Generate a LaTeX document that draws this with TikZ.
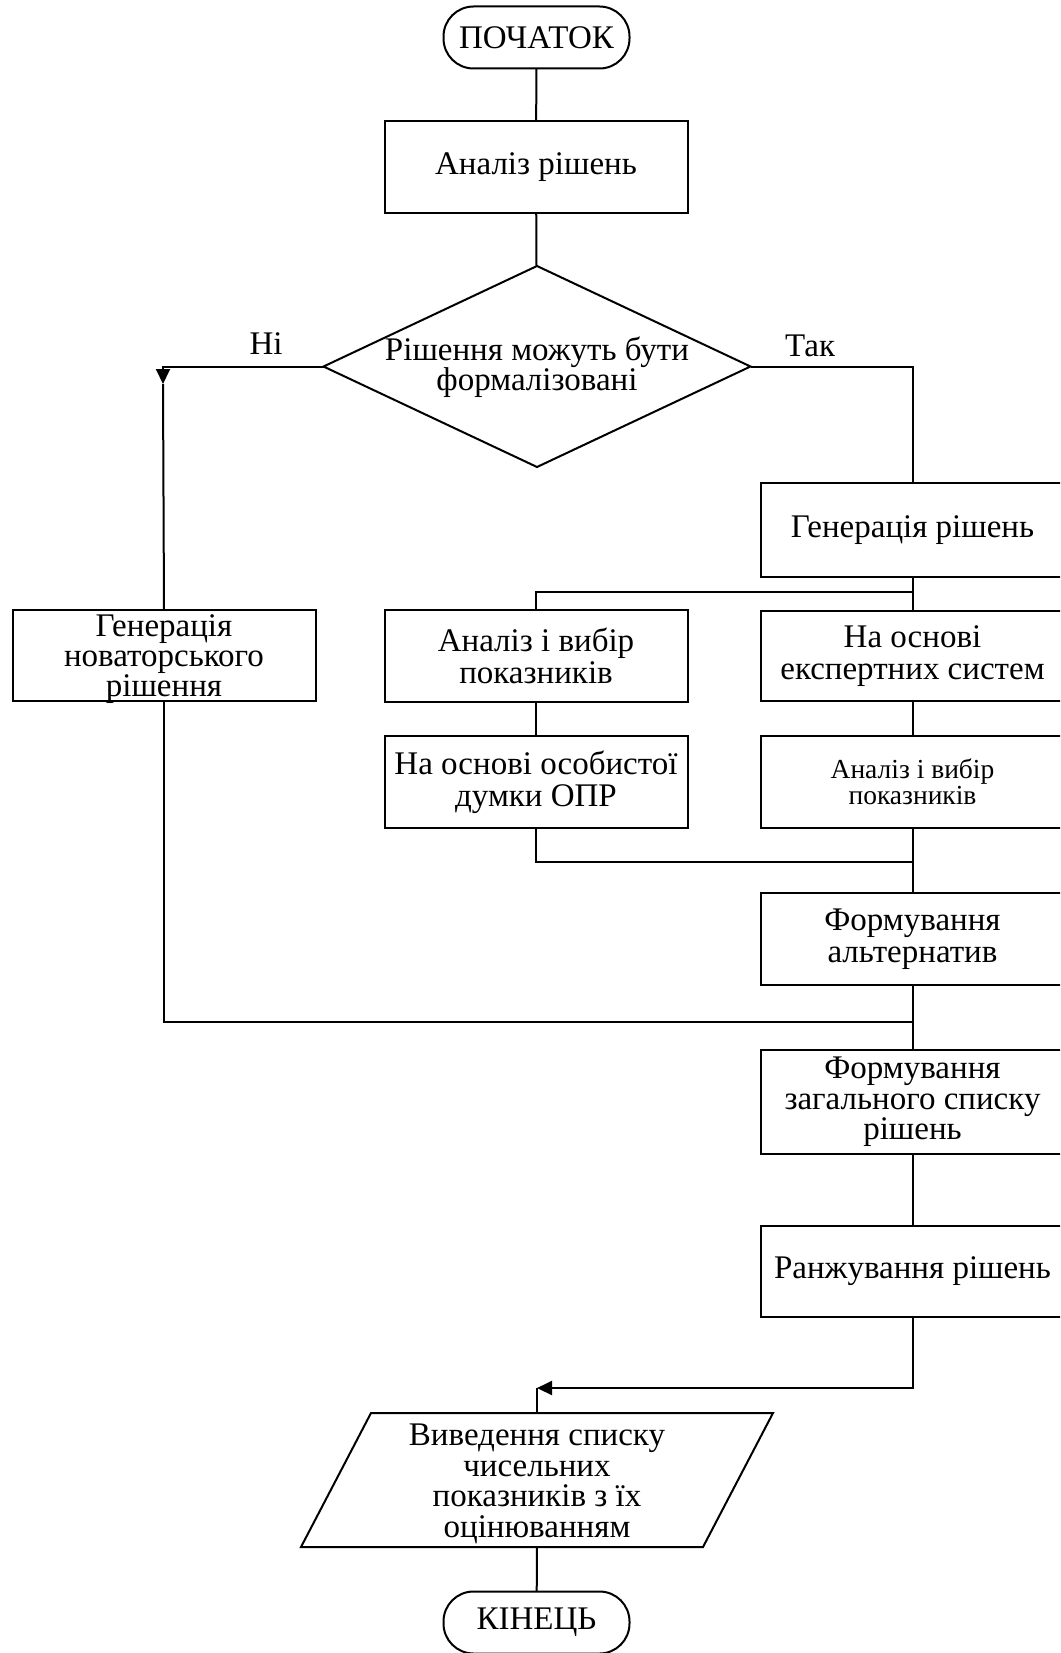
\documentclass[tikz,border=0pt]{standalone}
\usepackage{fontspec}
\setmainfont{Liberation Serif}
\usetikzlibrary{arrows.meta,shapes.geometric,calc}

\begin{document}
\begin{tikzpicture}[x=1pt,y=-1pt,
  every node/.style={inner sep=0pt,outer sep=0pt},
  line/.style={line width=2pt,line join=miter},
  txt/.style={font=\fontsize{33}{32}\selectfont,align=center},
  tighttxt/.style={font=\fontsize{33}{30.5}\selectfont,align=center},
  smalltxt/.style={font=\fontsize{27.5}{26}\selectfont,align=center},
  procbox/.style={line,draw,rectangle,minimum width=303pt,minimum height=92pt,txt},
  termbox/.style={line,draw,rectangle,rounded corners=30pt,minimum width=186pt,minimum height=62pt,txt},
  decbox/.style={line,draw,diamond,minimum width=427pt,minimum height=201pt},
  arrowtip/.style={-{Triangle[length=15pt,width=14pt]}}
]
\useasboundingbox (0,0) rectangle (1060,1653);
\clip (0,0) rectangle (1060,1653);

% flow blocks
\node[termbox] (start) at (536.5,37.5) {ПОЧАТОК};
\node[procbox] (anal) at (536,167) {Аналіз рішень};
\node[decbox] (dec) at (537,366.5) {};
\node[tighttxt] (dectext) at (537,367) {Рішення можуть бути\\формалізовані};

\node[procbox] (gen) at (912.5,530) [minimum height=94pt] {Генерація рішень};
\node[procbox] (lsel) at (536,656) {Аналіз і вибір\\показників};
\node[procbox] (expert) at (912.5,656) [minimum height=90pt] {На основі\\експертних систем};
\node[procbox] (opr) at (536,782) {На основі особистої\\думки ОПР};
\node[procbox,smalltxt] (rsel) at (912.5,782) {Аналіз і вибір\\показників};
\node[procbox] (alt) at (912.5,939) {Формування\\альтернатив};
\node[procbox,tighttxt] (gl) at (912.5,1102) [minimum height=104pt] {Формування\\загального списку\\рішень};
\node[procbox] (rank) at (912.5,1271.5) [minimum height=91pt] {Ранжування рішень};

\node[procbox,font=\fontsize{33}{30}\selectfont] (nov) at (164,655.5) [minimum height=91pt] {};
\node[font=\fontsize{33}{30}\selectfont,align=center] (novtext) at (164,659) {Генерація\\новаторського\\рішення};

% output block (parallelogram)
\node[minimum width=402pt,minimum height=134pt] (out) at (537,1480) {};
\node[tighttxt] (outtext) at (537,1484) {Виведення списку\\чисельних\\показників з їх\\оцінюванням};
\draw[line] ($(out.south west)+(-35,0)$) -- ($(out.north west)+(35,0)$)
  -- ($(out.north east)+(35,0)$) -- ($(out.south east)+(-35,0)$) -- cycle;

\node[termbox] (end) at (536.5,1622.5) {КІНЕЦЬ};

% junction points
\coordinate (split) at (536,592);
\coordinate (merge) at (912.5,862);
\coordinate (merge2) at (912.5,1022);
\coordinate (nitip) at (163,384);
\coordinate (outtip) at (537,1388);

% connectors
\draw[line] (start) -- (anal);
\draw[line] (anal) -- (dec);
\draw[line,arrowtip] (dec.west) -| (nitip);
\draw[line] (nitip) -- (nov.north);
\draw[line] (dec.east) -| (gen.north);
\draw[line] (gen.south) -- (expert.north);
\draw[line] (gen.south) |- (split) -- (lsel.north);
\draw[line] (lsel) -- (opr);
\draw[line] (expert) -- (rsel);
\draw[line] (opr.south) |- (merge);
\draw[line] (rsel) -- (alt);
\draw[line] (nov.south) |- (merge2);
\draw[line] (alt) -- (gl);
\draw[line] (gl) -- (rank);
\draw[line,arrowtip] (rank.south) |- (outtip);
\draw[line] (outtip) -- (out.north);
\draw[line] (out.south) -- (end);

% branch labels
\node[txt] (nolabel) at (266,344) {Ні};
\node[txt] (yeslabel) at (810,346) {Так};
\end{tikzpicture}
\end{document}
